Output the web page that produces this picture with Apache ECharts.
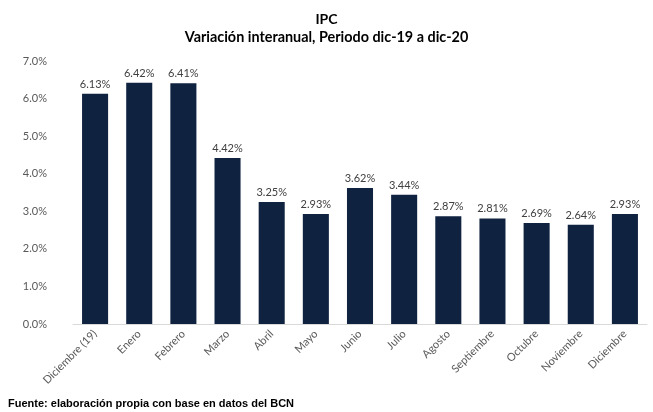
<!DOCTYPE html>
<html><head><meta charset="utf-8">
<script src="https://cdn.jsdelivr.net/npm/echarts@6/dist/echarts.min.js"></script>
<style>html,body{margin:0;padding:0;background:#fff}#c{width:653px;height:412px}</style>
</head><body><div id="c"></div>
<script>
const categories = ['Diciembre (19)','Enero','Febrero','Marzo','Abril','Mayo','Junio','Julio','Agosto','Septiembre','Octubre','Noviembre','Diciembre'];
const values = [6.13,6.42,6.41,4.42,3.25,2.93,3.62,3.44,2.87,2.81,2.69,2.64,2.93];
const titleText = 'IPC';
const subtitleText = 'Variación interanual, Periodo dic-19 a dic-20';
const sourceText = 'Fuente: elaboración propia con base en datos del BCN';
const chart = echarts.init(document.getElementById('c'));
chart.setOption({
  animation:false,
  title:[
    {text:titleText, left:'center', top:7, textStyle:{fontFamily:'Lato', fontWeight:'bold', fontSize:14, color:'#000'}},
    {text:subtitleText, left:'center', top:25, textStyle:{fontFamily:'Lato', fontWeight:'bold', fontSize:14.4, color:'#000'}},
    {text:sourceText, left:3, top:393, textStyle:{fontFamily:'Liberation Sans', fontWeight:'bold', fontSize:11, color:'#000'}}
  ],
  grid:{left:73, right:6, top:61, bottom:88},
  xAxis:{type:'category', data:categories,
    axisLine:{lineStyle:{color:'#d9d9d9'}}, axisTick:{show:false},
    axisLabel:{rotate:45, interval:0, color:'#595959', fontFamily:'Lato', fontSize:11, margin:8}},
  yAxis:{type:'value', min:0, max:7, interval:1,
    splitLine:{show:false}, axisLine:{show:false}, axisTick:{show:false},
    axisLabel:{formatter:v=>v.toFixed(1)+'%', color:'#595959', fontFamily:'Lato', fontSize:11, margin:26}},
  series:[{type:'bar', data:values, barWidth:'59%',
    itemStyle:{color:'#0f2240'},
    label:{show:true, position:'top', formatter:p=>p.value.toFixed(2)+'%', color:'#404040', fontFamily:'Lato', fontSize:11, distance:4}}]
});
</script></body></html>
